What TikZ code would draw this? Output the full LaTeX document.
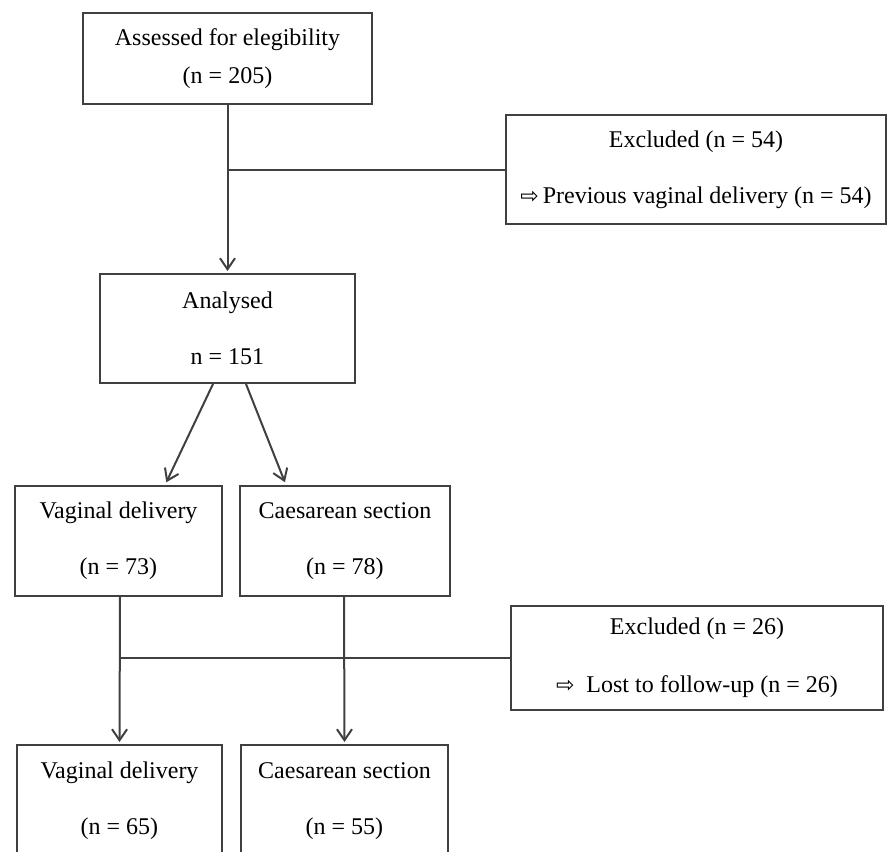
\documentclass[tikz,border=0pt]{standalone}
\usepackage{fontspec}
\setmainfont{Liberation Serif}
\newfontfamily\symfont{DejaVu Sans}
\usetikzlibrary{arrows.meta}
\tikzset{
  box/.style={draw=black!75, line width=2pt, inner sep=0pt, align=center,
              font=\fontsize{24}{56}\selectfont, text=black},
  conn/.style={draw=black!75, line width=2pt},
  arr/.style={conn, -{Straight Barb[length=11pt,width=15pt]}}
}
\newcommand{\rarrsym}{{\symfont\fontsize{22}{22}\selectfont ⇨}}
\begin{document}
\begin{tikzpicture}[x=1pt,y=-1pt]
  \useasboundingbox (0,0) rectangle (888,851);
  \clip (0,0) rectangle (888,851);
  \node[box, minimum width=289pt, minimum height=91pt, font=\fontsize{24}{38}\selectfont]
    (assess) at (227.5,58.5) {Assessed for elegibility\\(n = 205)};
  \node[box, minimum width=380pt, minimum height=109pt]
    (excl1) at (696,169.5) {Excluded (n = 54)\\\rarrsym\,Previous vaginal delivery (n = 54)};
  \node[box, minimum width=255pt, minimum height=109pt]
    (anal) at (227.5,328.5) {Analysed\\n = 151};
  \node[box, minimum width=207pt, minimum height=110pt]
    (vd1) at (118.5,541) {Vaginal delivery\\(n = 73)};
  \node[box, minimum width=210pt, minimum height=110pt]
    (cs1) at (345,541) {Caesarean section\\(n = 78)};
  \node[box, minimum width=372pt, minimum height=104pt, font=\fontsize{24}{58}\selectfont]
    (excl2) at (697,658) {Excluded (n = 26)\\\rarrsym\ \ Lost to follow-up (n = 26)};
  \node[box, minimum width=205pt, minimum height=112pt]
    (vd2) at (119.5,801) {Vaginal delivery\\(n = 65)};
  \node[box, minimum width=207pt, minimum height=112pt]
    (cs2) at (344.5,801) {Caesarean section\\(n = 55)};

  \draw[arr, shorten >=2pt] (assess.south) -- (anal.north);
  \coordinate (j1) at (assess.south |- excl1.west);
  \draw[conn] (j1) -- (excl1.west);

  \draw[arr, shorten >=3pt] ([xshift=-14.5pt]anal.south) -- ([xshift=46.5pt]vd1.north);
  \draw[arr, shorten >=3pt] ([xshift=18.5pt]anal.south) -- ([xshift=-59pt]cs1.north);

  \draw[arr, shorten >=2pt] ([xshift=1.5pt]vd1.south) -- (vd2.north);
  \draw[arr, shorten >=2pt] ([xshift=-1pt]cs1.south) -- (cs2.north);
  \coordinate (j2) at ([xshift=1.5pt]vd1.south |- excl2.west);
  \draw[conn] (j2) -- (excl2.west);
\end{tikzpicture}
\end{document}
